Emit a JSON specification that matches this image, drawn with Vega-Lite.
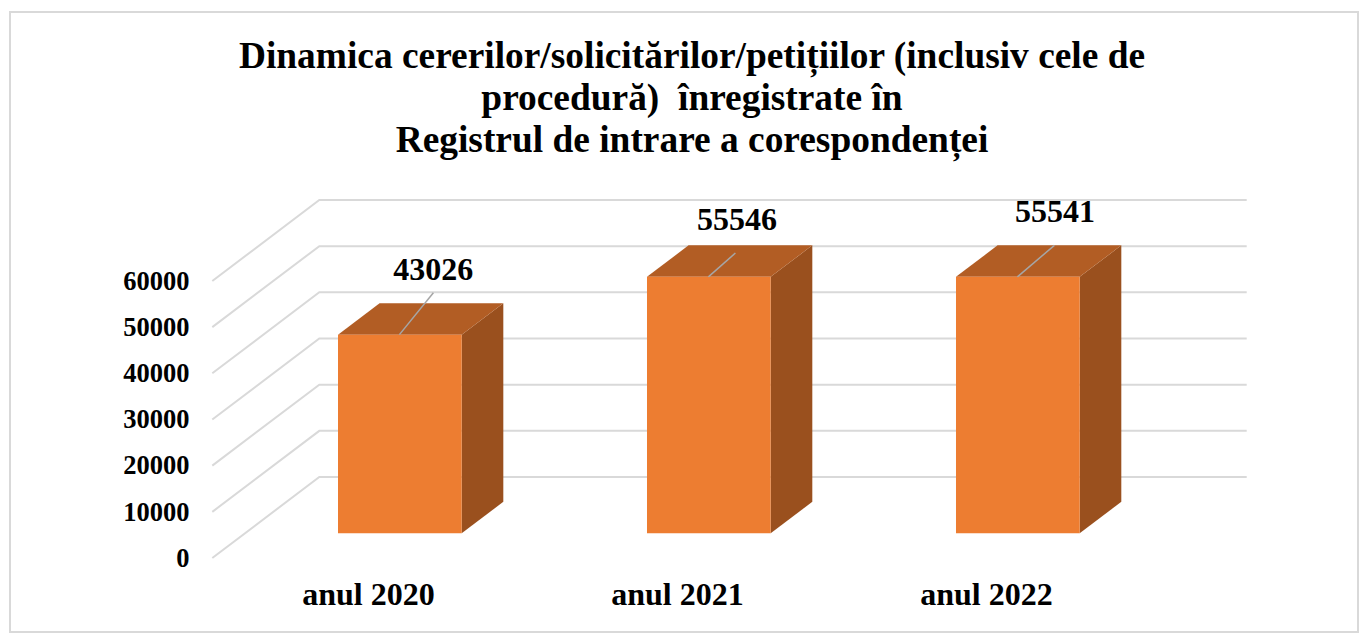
{
"$schema":"https://vega.github.io/schema/vega-lite/v6.json",
"width":1348,"height":620,
"autosize":{"type":"none"},
"padding":{"left":10,"top":12,"right":10,"bottom":3},
"background":"white",
"view":{"stroke":"#D9D9D9","strokeWidth":2,"fill":"white"},
"title":{"text":["Dinamica cererilor/solicitărilor/petițiilor (inclusiv cele de","procedură)\u00a0 înregistrate în","Registrul de intrare a corespondenței"],"anchor":"middle","dx":8,"offset":-147,"font":"Liberation Serif","fontWeight":"bold","fontSize":37.4,"lineHeight":42,"color":"#000000"},
"datasets":{
"grid":[
{"line":0,"pos":0.4961,"level":-5350},{"line":0,"pos":0.8424,"level":12194},{"line":0,"pos":3.8437,"level":12194},
{"line":1,"pos":0.4961,"level":4650},{"line":1,"pos":0.8424,"level":22194},{"line":1,"pos":3.8437,"level":22194},
{"line":2,"pos":0.4961,"level":14650},{"line":2,"pos":0.8424,"level":32194},{"line":2,"pos":3.8437,"level":32194},
{"line":3,"pos":0.4961,"level":24650},{"line":3,"pos":0.8424,"level":42194},{"line":3,"pos":3.8437,"level":42194},
{"line":4,"pos":0.4961,"level":34650},{"line":4,"pos":0.8424,"level":52194},{"line":4,"pos":3.8437,"level":52194},
{"line":5,"pos":0.4961,"level":44650},{"line":5,"pos":0.8424,"level":62194},{"line":5,"pos":3.8437,"level":62194},
{"line":6,"pos":0.4961,"level":54650},{"line":6,"pos":0.8424,"level":72194},{"line":6,"pos":3.8437,"level":72194}
],
"bars":[
{"year":"anul 2020","pos":0.9029,"posEnd":1.3032,"level":43026,"base":0},
{"year":"anul 2021","pos":1.9029,"posEnd":2.3032,"level":55546,"base":0},
{"year":"anul 2022","pos":2.9029,"posEnd":3.3032,"level":55541,"base":0}
],
"tops":[
{"year":"anul 2020","pos":0.9029,"level":43026,"upper":43026},
{"year":"anul 2020","pos":1.0375,"level":43026,"upper":49849},
{"year":"anul 2020","pos":1.3032,"level":43026,"upper":49849},
{"year":"anul 2020","pos":1.4379,"level":49849,"upper":49849},
{"year":"anul 2021","pos":1.9029,"level":55546,"upper":55546},
{"year":"anul 2021","pos":2.0375,"level":55546,"upper":62369},
{"year":"anul 2021","pos":2.3032,"level":55546,"upper":62369},
{"year":"anul 2021","pos":2.4379,"level":62369,"upper":62369},
{"year":"anul 2022","pos":2.9029,"level":55541,"upper":55541},
{"year":"anul 2022","pos":3.0375,"level":55541,"upper":62364},
{"year":"anul 2022","pos":3.3032,"level":55541,"upper":62364},
{"year":"anul 2022","pos":3.4379,"level":62364,"upper":62364}
],
"sides":[
{"year":"anul 2020","pos":1.3032,"level":0,"upper":43026},
{"year":"anul 2020","pos":1.4379,"level":6823,"upper":49849},
{"year":"anul 2021","pos":2.3032,"level":0,"upper":55546},
{"year":"anul 2021","pos":2.4379,"level":6823,"upper":62369},
{"year":"anul 2022","pos":3.3032,"level":0,"upper":55541},
{"year":"anul 2022","pos":3.4379,"level":6823,"upper":62364}
],
"leaders":[
{"year":"anul 2020","pos":1.1016,"level":43026},{"year":"anul 2020","pos":1.2116,"level":52120},
{"year":"anul 2021","pos":2.1016,"level":55546},{"year":"anul 2021","pos":2.1890,"level":60700},
{"year":"anul 2022","pos":3.1016,"level":55546},{"year":"anul 2022","pos":3.2214,"level":62370}
],
"labels":[
{"year":"anul 2020","pos":1.2113,"level":57050,"value":43026},
{"year":"anul 2021","pos":2.1939,"level":67870,"value":55546},
{"year":"anul 2022","pos":3.2233,"level":69650,"value":55541}
]
},
"encoding":{
"x":{"field":"pos","type":"quantitative","scale":{"domain":[-0.1586,4.2039],"nice":false,"zero":false},
"axis":{"title":null,"values":[1,2,3],"labelExpr":"'anul ' + (2019 + datum.value)","grid":false,"domain":false,"ticks":false,"labelPadding":-28,"labelBaseline":"alphabetic","labelFont":"Liberation Serif","labelFontWeight":"bold","labelFontSize":32,"labelColor":"#000000"}},
"y":{"field":"level","type":"quantitative","scale":{"domain":[-21378,112910],"nice":false,"zero":false},
"axis":{"title":null,"values":[0,10000,20000,30000,40000,50000,60000],"format":"d","grid":false,"domain":false,"ticks":false,"labelPadding":-179,"labelAlign":"right","labelBaseline":"middle","labelOffset":25,"labelFont":"Liberation Serif","labelFontWeight":"bold","labelFontSize":26.5,"labelColor":"#000000"}}
},
"layer":[
{"data":{"name":"grid"},"mark":{"type":"line","color":"#D9D9D9","strokeWidth":2},"encoding":{"detail":{"field":"line"}}},
{"data":{"name":"sides"},"mark":{"type":"area","color":"#9A501E"},"encoding":{"y2":{"field":"upper"},"detail":{"field":"year"}}},
{"data":{"name":"tops"},"mark":{"type":"area","color":"#B25D24"},"encoding":{"y2":{"field":"upper"},"detail":{"field":"year"}}},
{"data":{"name":"bars"},"mark":{"type":"bar","color":"#ED7D31"},"encoding":{"x2":{"field":"posEnd"},"y2":{"field":"base"}}},
{"data":{"name":"leaders"},"mark":{"type":"line","color":"#A6A6A6","strokeWidth":1.5},"encoding":{"detail":{"field":"year"}}},
{"data":{"name":"labels"},"mark":{"type":"text","font":"Liberation Serif","fontWeight":"bold","fontSize":32,"color":"#000000","baseline":"middle","align":"center"},"encoding":{"text":{"field":"value","type":"quantitative","format":"d"}}}
]
}
